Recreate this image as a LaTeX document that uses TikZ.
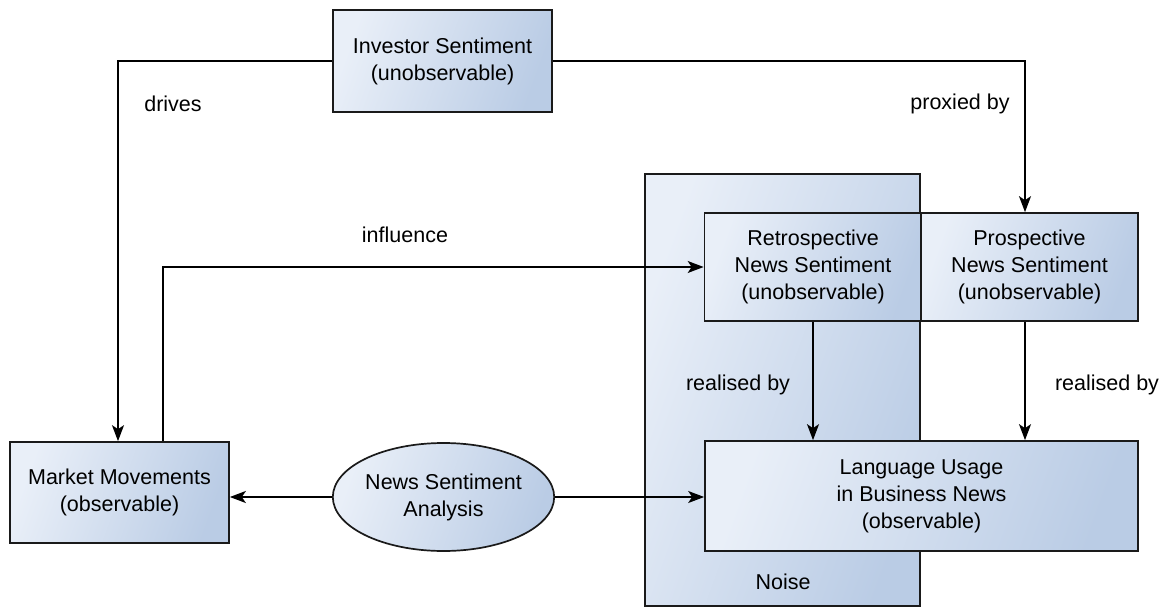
\documentclass[tikz,border=0pt]{standalone}
\usepackage{fontspec}
\setmainfont{Liberation Sans}
\usetikzlibrary{arrows.meta,shapes.geometric}
\definecolor{boxlight}{HTML}{E9EFF8}
\definecolor{boxdark}{HTML}{BACCE5}
\definecolor{edge}{HTML}{1A1A1A}
\begin{document}
\begin{tikzpicture}[x=1pt,y=-1pt,
  every node/.style={font=\fontsize{21.5}{27}\selectfont, align=center, text=black},
  box/.style={draw=edge, line width=1.7pt, left color=boxlight, right color=boxdark,
    shading angle=70, inner sep=0pt, rectangle},
  oval/.style={box, ellipse},
  conn/.style={draw=black, line width=1.7pt, -{Stealth[length=16pt,width=12pt,inset=4pt]}},
  lbl/.style={inner sep=0pt}
]
\useasboundingbox (0,0) rectangle (1164,610);

% noise region behind the two sentiment boxes
\node[box, minimum width=275pt, minimum height=432pt] (noise) at (782.5,390) {};
\node[lbl] (noiselbl) at (783,582) {Noise};

% nodes
\node[box, minimum width=219pt, minimum height=102pt] (inv) at (442.5,61)
  {Investor Sentiment\\(unobservable)};
\node[box, minimum width=219pt, minimum height=101pt] (mkt) at (119.5,492.5)
  {Market Movements\\(observable)};
\node[oval, minimum width=218pt, minimum height=108pt] (nsa) at (443.5,497)
  {News Sentiment\\Analysis};
\node[box, minimum width=217pt, minimum height=108pt] (ret) at (813,267)
  {Retrospective\\News Sentiment\\(unobservable)};
\node[box, minimum width=217pt, minimum height=108pt] (pro) at (1029.5,267)
  {Prospective\\News Sentiment\\(unobservable)};
\node[box, minimum width=433pt, minimum height=110pt] (lang) at (921.5,496)
  {Language Usage\\in Business News\\(observable)};

% connectors
\draw[conn] (inv.west) -| ([xshift=-1.5pt]mkt.north);
\draw[conn] (inv.east) -| ([xshift=-4.5pt]pro.north);
\draw[conn] ([xshift=43.5pt]mkt.north) |- (ret.west);
\draw[conn] (ret.south) -- (ret.south |- lang.north);
\draw[conn] ([xshift=-4.5pt]pro.south) -- ([xshift=-4.5pt]pro.south |- lang.north);
\draw[conn] (nsa.west) -- (nsa.west -| mkt.east);
\draw[conn] (nsa.east) -- (nsa.east -| lang.west);

% connector labels
\node[lbl] (ldrives) at (173,104) {drives};
\node[lbl] (lproxy) at (960,104) {proxied by};
\node[lbl] (linfl) at (405,235) {influence};
\node[lbl] (lreal1) at (738,385) {realised by};
\node[lbl] (lreal2) at (1107,385) {realised by};
\end{tikzpicture}
\end{document}
